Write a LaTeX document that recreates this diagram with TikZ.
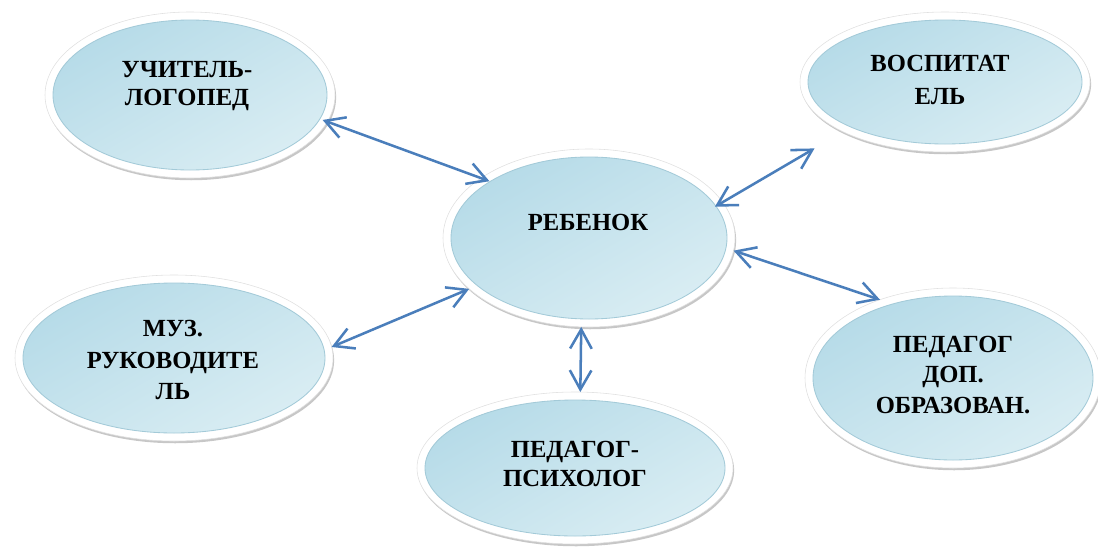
\documentclass[tikz,border=0pt]{standalone}
\usepackage{fontspec}
\setmainfont{Liberation Serif}
\usetikzlibrary{shapes.geometric,shadows,arrows.meta}
\newlength\pxu
\setlength\pxu{0.025cm}
\definecolor{arrowblue}{HTML}{4A7EBB}
\definecolor{bluea}{HTML}{B6DBE8}
\definecolor{blueb}{HTML}{D9EDF3}
\definecolor{rimblue}{HTML}{A3CAD8}
\begin{document}
\begin{tikzpicture}[x=0.025cm,y=-0.025cm,
 ring/.style={ellipse, fill=white, draw=black!12, line width=0.4pt, inner sep=0pt, outer sep=0pt,
   drop shadow={shadow xshift=0.8pt, shadow yshift=-1.6pt, opacity=0.22, fill=black}},
 core/.style={ellipse, inner sep=0pt, outer sep=0pt, draw=rimblue, line width=0.6pt,
   top color=bluea, bottom color=blueb, shading angle=30},
 lbl/.style={align=center, font=\bfseries\fontsize{17.5}{#1}\selectfont, inner sep=0pt},
 lbl/.default=20,
 link/.style={draw=arrowblue, line width=1.8pt,
   {Straight Barb[length=4.8mm,width=5.4mm]}-{Straight Barb[length=4.8mm,width=5.4mm]}}
]
\useasboundingbox (0,0) rectangle (1098,546);

% top-left
\node[ring, minimum width=290\pxu, minimum height=166\pxu] (tl) at (190,95) {};
\node[core, minimum width=274\pxu, minimum height=150\pxu] (tlcore) at (tl) {};
\node[lbl=20] (tltext) at (187,86) {УЧИТЕЛЬ-\\ЛОГОПЕД};

% top-right
\node[ring, minimum width=290\pxu, minimum height=140\pxu] (tr) at (945,82) {};
\node[core, minimum width=274\pxu, minimum height=124\pxu] (trcore) at (tr) {};
\node[lbl=24] (trtext) at (940,80) {ВОСПИТАТ\\ЕЛЬ};

% center
\node[ring, minimum width=292\pxu, minimum height=178\pxu] (c) at (589,238) {};
\node[core, minimum width=276\pxu, minimum height=162\pxu] (ccore) at (c) {};
\node[lbl] (ctext) at (588,222) {РЕБЕНОК};

% left-middle
\node[ring, minimum width=318\pxu, minimum height=166\pxu] (lm) at (174,358) {};
\node[core, minimum width=302\pxu, minimum height=150\pxu] (lmcore) at (lm) {};
\node[lbl=22.7] (lmtext) at (173,360) {МУЗ.\\РУКОВОДИТЕ\\ЛЬ};

% bottom
\node[ring, minimum width=316\pxu, minimum height=152\pxu] (b) at (575,468) {};
\node[core, minimum width=300\pxu, minimum height=136\pxu] (bcore) at (b) {};
\node[lbl=20] (btext) at (575,464) {ПЕДАГОГ-\\ПСИХОЛОГ};

% right-bottom
\node[ring, minimum width=296\pxu, minimum height=180\pxu] (rb) at (953,378) {};
\node[core, minimum width=280\pxu, minimum height=164\pxu] (rbcore) at (rb) {};
\node[lbl=21.5] (rbtext) at (953,375) {ПЕДАГОГ\\ДОП.\\ОБРАЗОВАН.};

% connectors
\draw[link, shorten <=-5\pxu, shorten >=-9\pxu] (tl.-11.5) -- (c.151);
\draw[link, shorten <=-9\pxu, shorten >=33\pxu] (c.15.4) -- (tr.206.1);
\draw[link] (c.-5.6) -- (rb.133.1);
\draw[link] (lm.4) -- (c.203.3);
\draw[link] (c.-95.9) -- (b.86);
\end{tikzpicture}
\end{document}
